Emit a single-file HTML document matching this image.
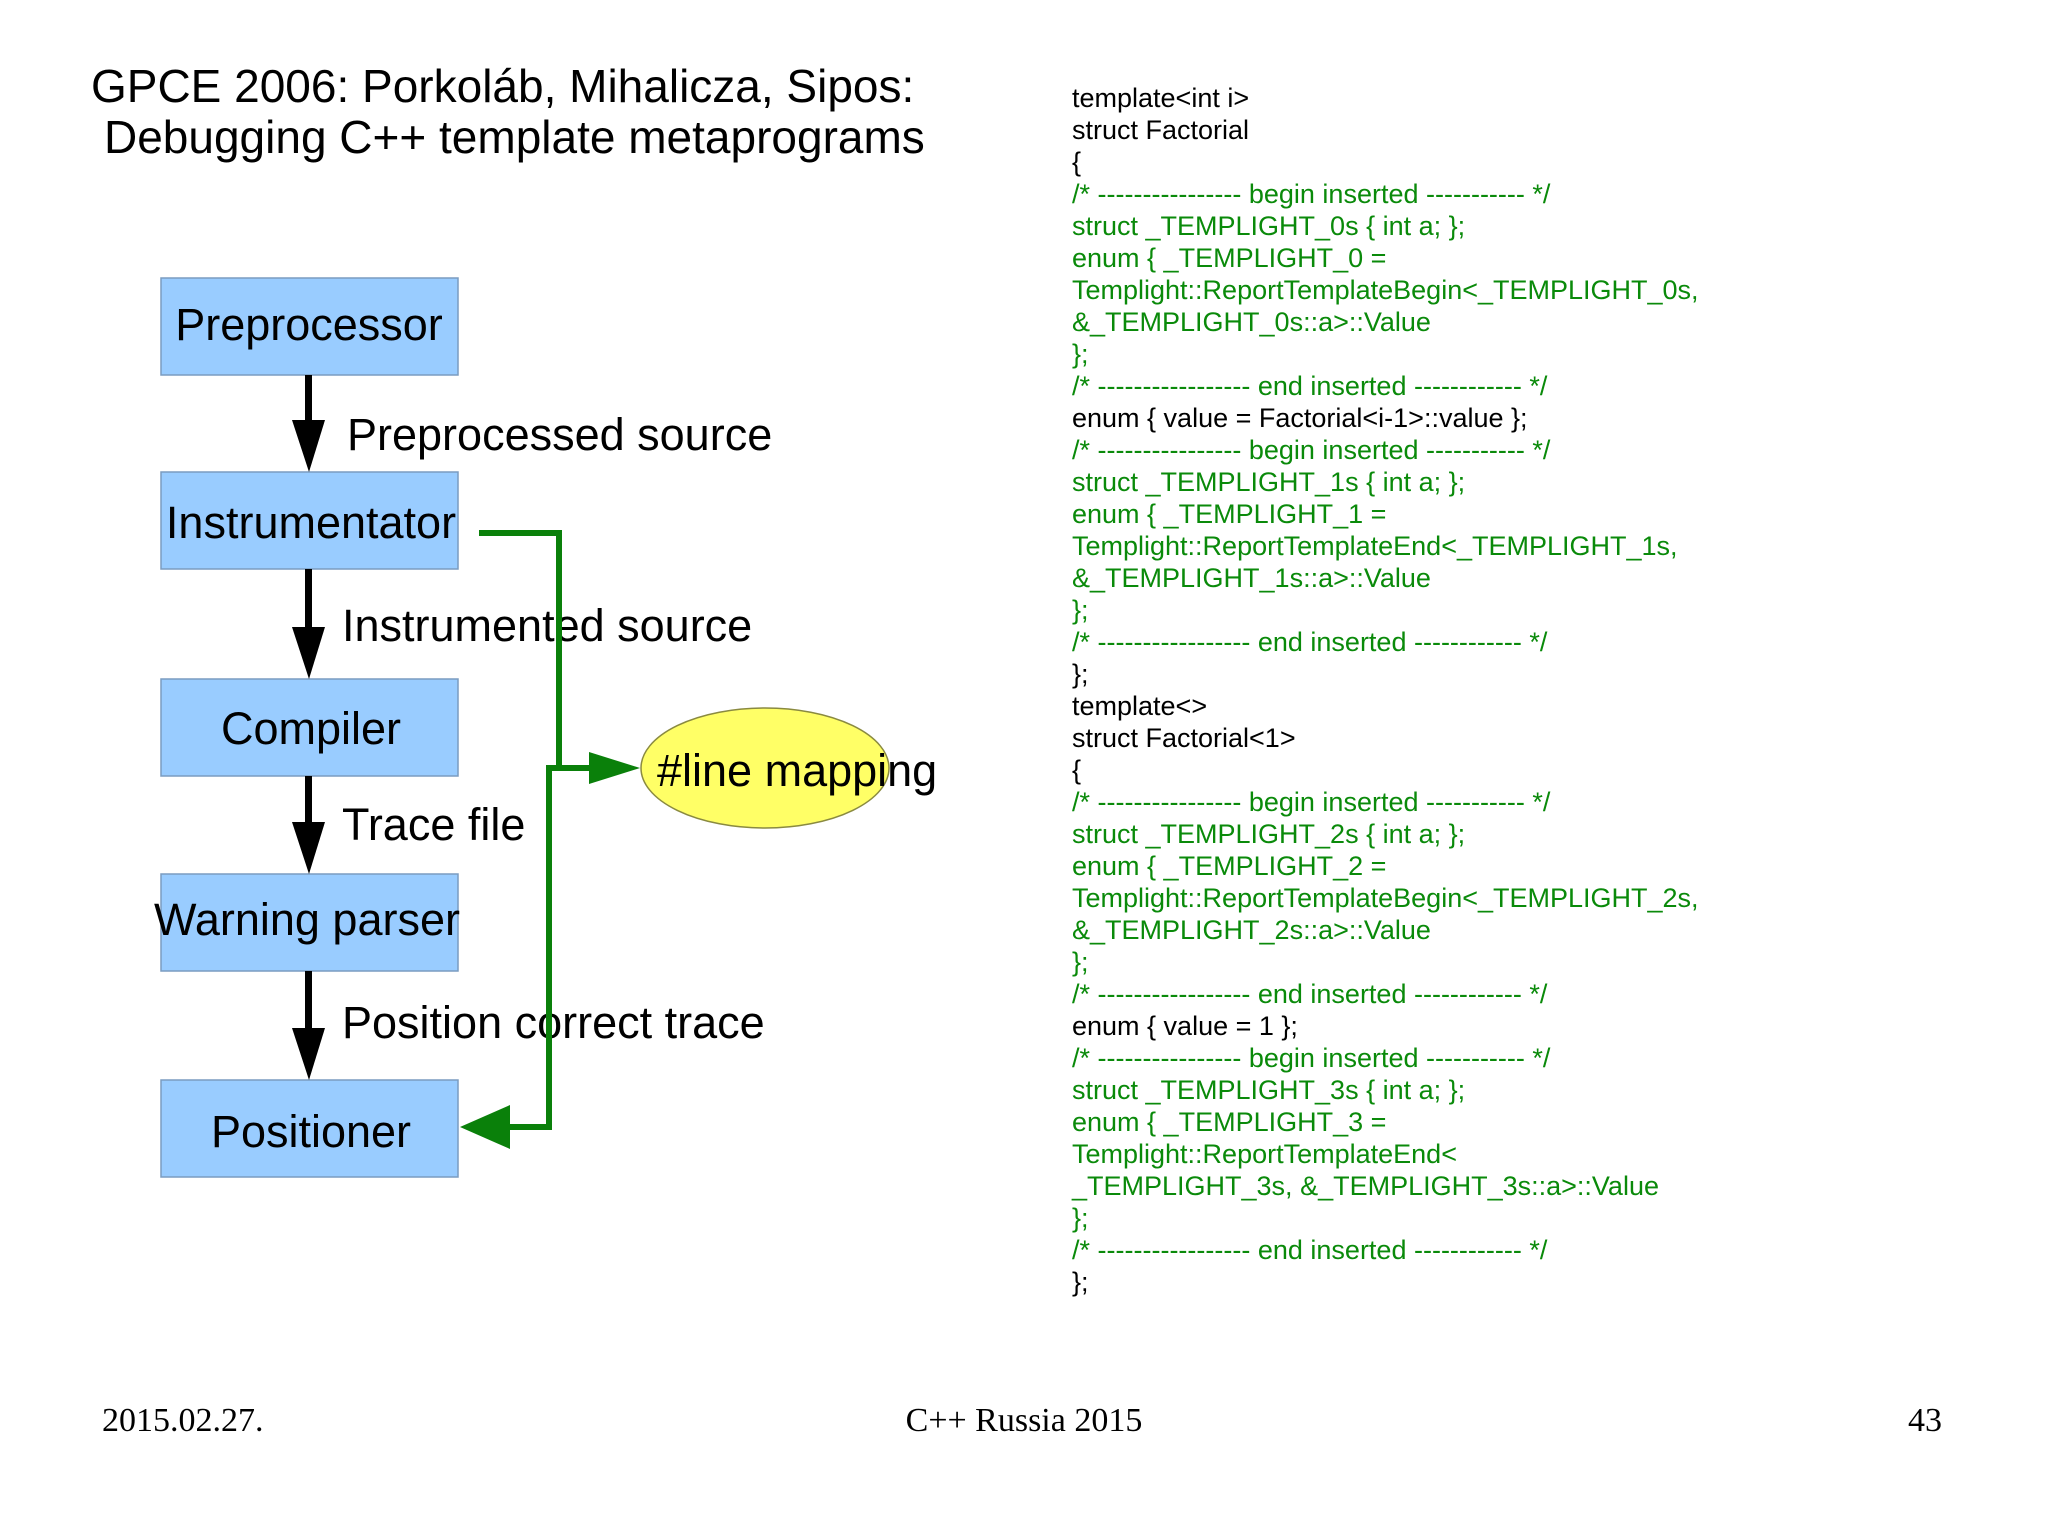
<!DOCTYPE html>
<html><head><meta charset="utf-8"><style>
html,body{margin:0;padding:0;background:#fff;}
svg{display:block;}
text{font-family:"Liberation Sans",sans-serif;}
.c{font-size:27px;}
.g{fill:#0a8a0a;}
.k{fill:#000;}
.bx{fill:#99ccff;stroke:#7a9cc0;stroke-width:1.5;}
.bt{font-size:45px;text-anchor:middle;}
.lb{font-size:45px;}
.ft{font-family:"Liberation Serif",serif;font-size:34px;}
</style></head><body>
<svg width="2048" height="1535" viewBox="0 0 2048 1535" xmlns="http://www.w3.org/2000/svg">
<text x="91" y="102" font-size="46">GPCE 2006: Porkoláb, Mihalicza, Sipos:</text>
<text x="104" y="153" font-size="46">Debugging C++ template metaprograms</text>

<rect class="bx" x="161" y="278" width="297" height="97"/>
<text class="bt" x="309" y="340">Preprocessor</text>
<rect class="bx" x="161" y="472" width="297" height="97"/>
<text class="bt" x="311" y="538">Instrumentator</text>
<rect class="bx" x="161" y="679" width="297" height="97"/>
<text class="bt" x="311" y="744">Compiler</text>
<rect class="bx" x="161" y="874" width="297" height="97"/>
<text class="bt" x="307" y="935">Warning parser</text>
<rect class="bx" x="161" y="1080" width="297" height="97"/>
<text class="bt" x="311" y="1147">Positioner</text>

<g fill="#000">
<rect x="305" y="375" width="7" height="50"/><polygon points="292,420 325,420 309,472"/>
<rect x="305" y="569" width="7" height="60"/><polygon points="292,627 325,627 309,679"/>
<rect x="305" y="776" width="7" height="50"/><polygon points="292,822 325,822 309,874"/>
<rect x="305" y="971" width="7" height="60"/><polygon points="292,1028 325,1028 309,1080"/>
</g>

<text class="lb" x="347" y="450">Preprocessed source</text>
<text class="lb" x="342" y="641">Instrumented source</text>
<text class="lb" x="342" y="840">Trace file</text>
<text class="lb" x="342" y="1038">Position correct trace</text>

<ellipse cx="765" cy="768" rx="124" ry="60" fill="#ffff66" stroke="#8a8a40" stroke-width="1.5"/>
<text x="657" y="786" font-size="45">#line mapping</text>

<g stroke="#0a800a" stroke-width="6" fill="none">
<polyline points="479,533 559,533 559,768 590,768"/>
<polyline points="559,768 549,768 549,1127 505,1127"/>
</g>
<g fill="#0a800a">
<polygon points="589,752 640,768 589,784"/>
<polygon points="510,1105 460,1127 510,1149"/>
</g>

<g class="c">
<text x="1072" y="107" class="k">template&lt;int i&gt;</text>
<text x="1072" y="139" class="k">struct Factorial</text>
<text x="1072" y="171" class="k">{</text>
<text x="1072" y="203" class="g">/* ---------------- begin inserted ----------- */</text>
<text x="1072" y="235" class="g">struct _TEMPLIGHT_0s { int a; };</text>
<text x="1072" y="267" class="g">enum { _TEMPLIGHT_0 =</text>
<text x="1072" y="299" class="g">Templight::ReportTemplateBegin&lt;_TEMPLIGHT_0s,</text>
<text x="1072" y="331" class="g">&amp;_TEMPLIGHT_0s::a&gt;::Value</text>
<text x="1072" y="363" class="g">};</text>
<text x="1072" y="395" class="g">/* ----------------- end inserted ------------ */</text>
<text x="1072" y="427" class="k">enum { value = Factorial&lt;i-1&gt;::value };</text>
<text x="1072" y="459" class="g">/* ---------------- begin inserted ----------- */</text>
<text x="1072" y="491" class="g">struct _TEMPLIGHT_1s { int a; };</text>
<text x="1072" y="523" class="g">enum { _TEMPLIGHT_1 =</text>
<text x="1072" y="555" class="g">Templight::ReportTemplateEnd&lt;_TEMPLIGHT_1s,</text>
<text x="1072" y="587" class="g">&amp;_TEMPLIGHT_1s::a&gt;::Value</text>
<text x="1072" y="619" class="g">};</text>
<text x="1072" y="651" class="g">/* ----------------- end inserted ------------ */</text>
<text x="1072" y="683" class="k">};</text>
<text x="1072" y="715" class="k">template&lt;&gt;</text>
<text x="1072" y="747" class="k">struct Factorial&lt;1&gt;</text>
<text x="1072" y="779" class="k">{</text>
<text x="1072" y="811" class="g">/* ---------------- begin inserted ----------- */</text>
<text x="1072" y="843" class="g">struct _TEMPLIGHT_2s { int a; };</text>
<text x="1072" y="875" class="g">enum { _TEMPLIGHT_2 =</text>
<text x="1072" y="907" class="g">Templight::ReportTemplateBegin&lt;_TEMPLIGHT_2s,</text>
<text x="1072" y="939" class="g">&amp;_TEMPLIGHT_2s::a&gt;::Value</text>
<text x="1072" y="971" class="g">};</text>
<text x="1072" y="1003" class="g">/* ----------------- end inserted ------------ */</text>
<text x="1072" y="1035" class="k">enum { value = 1 };</text>
<text x="1072" y="1067" class="g">/* ---------------- begin inserted ----------- */</text>
<text x="1072" y="1099" class="g">struct _TEMPLIGHT_3s { int a; };</text>
<text x="1072" y="1131" class="g">enum { _TEMPLIGHT_3 =</text>
<text x="1072" y="1163" class="g">Templight::ReportTemplateEnd&lt;</text>
<text x="1072" y="1195" class="g">_TEMPLIGHT_3s, &amp;_TEMPLIGHT_3s::a&gt;::Value</text>
<text x="1072" y="1227" class="g">};</text>
<text x="1072" y="1259" class="g">/* ----------------- end inserted ------------ */</text>
<text x="1072" y="1291" class="k">};</text>
</g>

<text class="ft" x="102" y="1431">2015.02.27.</text>
<text class="ft" x="1024" y="1431" text-anchor="middle">C++ Russia 2015</text>
<text class="ft" x="1942" y="1431" text-anchor="end">43</text>
</svg>
</body></html>
